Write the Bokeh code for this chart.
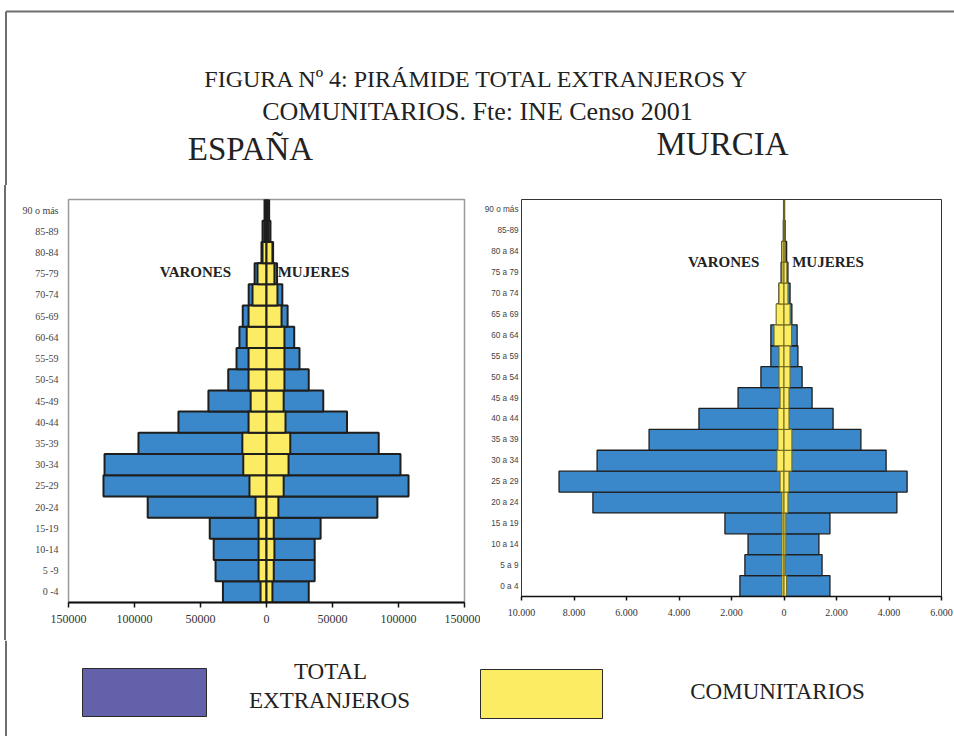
from bokeh.plotting import figure
from bokeh.layouts import column, row
from bokeh.models import FactorRange, Range1d, FixedTicker, Label, ColumnDataSource, Div, Spacer
from bokeh.embed import file_html
from bokeh.resources import INLINE

# ---------------- data ----------------
ages_es = ["0 -4", "5 -9", "10-14", "15-19", "20-24", "25-29", "30-34", "35-39",
           "40-44", "45-49", "50-54", "55-59", "60-64", "65-69", "70-74", "75-79",
           "80-84", "85-89", "90 o más"]
es_total_varones = [33000, 38600, 40000, 43000, 90000, 123500, 122700, 97000, 66700,
                    44000, 29000, 22700, 20500, 18000, 13500, 9000, 3800, 3000, 1500]
es_total_mujeres = [32000, 36500, 36500, 41000, 84000, 107600, 101500, 85000, 61000,
                    43000, 32000, 25000, 21000, 16000, 12000, 8000, 5000, 3000, 2000]
es_com_varones = [4500, 6000, 6000, 6000, 8300, 12900, 17600, 18300, 13600,
                  12000, 13600, 13600, 15000, 13600, 10600, 6800, 3000, 1500, 800]
es_com_mujeres = [4500, 5500, 6000, 5500, 9000, 13000, 16700, 18000, 14400,
                  13000, 13600, 13600, 13600, 11400, 8300, 6000, 4500, 1500, 800]

ages_mu = ["0 a 4", "5 a 9", "10 a 14", "15 a 19", "20 a 24", "25 a 29", "30 a 34",
           "35 a 39", "40 a 44", "45 a 49", "50 a 54", "55 a 59", "60 a 64", "65 a 69",
           "70 a 74", "75 a 79", "80 a 84", "85-89", "90 o más"]
mu_total_varones = [1680, 1490, 1370, 2250, 7280, 8570, 7120, 5140, 3240,
                    1750, 880, 500, 500, 270, 190, 110, 80, 25, 15]
mu_total_mujeres = [1750, 1450, 1330, 1750, 4300, 4690, 3890, 2930, 1870,
                    1070, 690, 530, 500, 300, 230, 150, 100, 40, 20]
mu_com_varones = [80, 80, 80, 75, 80, 150, 270, 230, 230,
                  150, 190, 190, 380, 300, 190, 80, 80, 10, 5]
mu_com_mujeres = [100, 40, 70, 70, 150, 190, 300, 300, 190,
                  190, 230, 230, 290, 230, 150, 110, 40, 10, 5]

es_ticks = [-150000, -100000, -50000, 0, 50000, 100000, 150000]
es_tick_labels = ["150000", "100000", "50000", "0", "50000", "100000", "150000"]
mu_ticks = [-10000, -8000, -6000, -4000, -2000, 0, 2000, 4000, 6000]
mu_tick_labels = ["10.000", "8.000", "6.000", "4.000", "2.000", "0", "2.000", "4.000", "6.000"]

title_lines = ["FIGURA Nº 4: PIRÁMIDE TOTAL EXTRANJEROS Y",
               "COMUNITARIOS. Fte: INE Censo 2001"]
legend_names = ["TOTAL\nEXTRANJEROS", "COMUNITARIOS"]

# ---------------- style ----------------
SERIF = "Liberation Serif"
SANS = "Liberation Sans"
BLUE = "#3a88c9"
YELLOW = "#fcec64"
PURPLE = "#6461ab"
BORDER = "#6e6e6e"
TXT = "#222222"
W = 954
H_HDR, H_MID, H_LEG = 185, 455, 96
BX = 5.5  # outer frame line x


def bare(width, height, xr, yr):
    p = figure(width=width, height=height, x_range=xr, y_range=yr,
               x_axis_type=None, y_axis_type=None, toolbar_location=None,
               output_backend="svg", min_border=0)
    p.outline_line_color = None
    p.grid.visible = False
    return p


def add_text(p, x, y, text, size, bold=False, font=SERIF):
    p.add_layout(Label(x=x, y=y, text=text, text_font=font, text_font_size=size,
                       text_font_style="bold" if bold else "normal",
                       text_align="center", text_baseline="middle", text_color=TXT))


# ---------------- header ----------------
hdr = bare(W, H_HDR, Range1d(0, W), Range1d(H_HDR, 0))
hdr.segment(x0=[BX, BX], y0=[11, 11], x1=[BX, W], y1=[H_HDR, 11],
            line_color=BORDER, line_width=2)
add_text(hdr, 477, 78, title_lines[0], "24px")
add_text(hdr, 477, 111, title_lines[1], "26px")
add_text(hdr, 250, 148, "ESPAÑA", "33px")
add_text(hdr, 722, 143, "MURCIA", "33px")

# ---------------- outer border, left side of the middle band ----------------
strip = row(Spacer(width=4, height=H_MID, margin=0),
            Div(text="", width=2, height=H_MID, margin=0,
                styles={"background-color": BORDER}),
            Spacer(width=4, height=H_MID, margin=0),
            spacing=0, margin=0)


# ---------------- pyramids ----------------
def pyramid(ages, tv, tm, cv, cm, xr, ticks, tick_labels, fw, fh, mb, sty):
    p = figure(y_range=FactorRange(factors=ages), x_range=Range1d(*xr),
               frame_width=fw, frame_height=fh,
               min_border_left=mb[0], min_border_right=mb[1],
               min_border_top=mb[2], min_border_bottom=mb[3],
               toolbar_location=None, output_backend="svg")
    src = ColumnDataSource(dict(
        age=ages,
        tv=[-v for v in tv], tm=tm,
        cv=[-v for v in cv], cm=cm,
    ))
    p.hbar(y="age", left="tv", right=0, height=1.0, source=src,
           fill_color=BLUE, line_color=sty["bline"], line_width=sty["blw"])
    p.hbar(y="age", left=0, right="tm", height=1.0, source=src,
           fill_color=BLUE, line_color=sty["bline"], line_width=sty["blw"])
    p.hbar(y="age", left="cv", right=0, height=1.0, source=src,
           fill_color=YELLOW, line_color=sty["yline"], line_width=sty["ylw"])
    p.hbar(y="age", left=0, right="cm", height=1.0, source=src,
           fill_color=YELLOW, line_color=sty["yline"], line_width=sty["ylw"])

    p.grid.visible = False
    p.outline_line_color = sty["outline"]
    p.outline_line_width = sty["olw"]

    xa = p.xaxis[0]
    xa.ticker = FixedTicker(ticks=ticks)
    xa.major_label_overrides = {t: l for t, l in zip(ticks, tick_labels)}
    xa.axis_line_color = "#111111"
    xa.axis_line_width = sty["alw"]
    xa.major_tick_line_color = "#111111"
    xa.major_tick_line_width = 1.5
    xa.major_tick_out = sty["tick"]
    xa.major_tick_in = 0
    xa.minor_tick_line_color = None
    xa.major_label_text_font = SERIF
    xa.major_label_text_font_size = sty["xfs"]
    xa.major_label_text_color = "#333333"
    xa.major_label_standoff = sty["xso"]

    ya = p.yaxis[0]
    ya.axis_line_color = None
    ya.major_tick_line_color = None
    ya.major_tick_out = 0
    ya.major_tick_in = 0
    ya.minor_tick_line_color = None
    ya.major_label_text_font = sty["yfont"]
    ya.major_label_text_font_size = sty["yfs"]
    ya.major_label_text_color = "#444444"
    ya.major_label_standoff = sty["yso"]
    return p


def side_label(p, x, y, text):
    p.add_layout(Label(x=x, y=y, text=text, text_font=SERIF, text_font_size="15px",
                       text_font_style="bold", text_align="center", text_baseline="middle",
                       text_color=TXT))


p_es = pyramid(ages_es, es_total_varones, es_total_mujeres, es_com_varones, es_com_mujeres,
               (-150000, 150000), es_ticks, es_tick_labels, 396, 403, (58, 16, 14, 38),
               dict(bline="#1e1e1e", blw=2, yline="#1e1e1e", ylw=2, outline="#9a9a9a",
                    olw=1.5, alw=2, tick=5, xfs="12px", xso=7, yfont=SERIF, yfs="10px", yso=10))
side_label(p_es, -53800, 15.6, "VARONES")
side_label(p_es, 35600, 15.6, "MUJERES")

p_mu = pyramid(ages_mu, mu_total_varones, mu_total_mujeres, mu_com_varones, mu_com_mujeres,
               (-10000, 6000), mu_ticks, mu_tick_labels, 420, 397, (41, 13, 12, 46),
               dict(bline="#1e1e1e", blw=1.3, yline="#6b6420", ylw=1, outline="#333333",
                    olw=1, alw=1.5, tick=4, xfs="10px", xso=8, yfont=SANS, yfs="8.2px", yso=3))
side_label(p_mu, -2300, 16.0, "VARONES")
side_label(p_mu, 1676, 16.0, "MUJERES")

# ---------------- legend ----------------
leg = bare(W, H_LEG, Range1d(0, W), Range1d(H_LEG, 0))
leg.segment(x0=[BX], y0=[0], x1=[BX], y1=[H_LEG], line_color=BORDER, line_width=2)
leg.quad(left=[82], right=[206], top=[28], bottom=[76], fill_color=PURPLE,
         line_color="#2a2a2a", line_width=1)
leg.quad(left=[480], right=[602], top=[29], bottom=[78], fill_color=YELLOW,
         line_color="#2a2a2a", line_width=1)
n1, n2 = legend_names[0].split("\n")
add_text(leg, 330, 31, n1, "23px")
add_text(leg, 329, 60, n2, "23px")
add_text(leg, 777, 51, legend_names[1], "23px")

layout = column(hdr, row(strip, p_es, p_mu, spacing=0), leg, spacing=0)
open("out.html", "w").write(file_html(layout, INLINE))
